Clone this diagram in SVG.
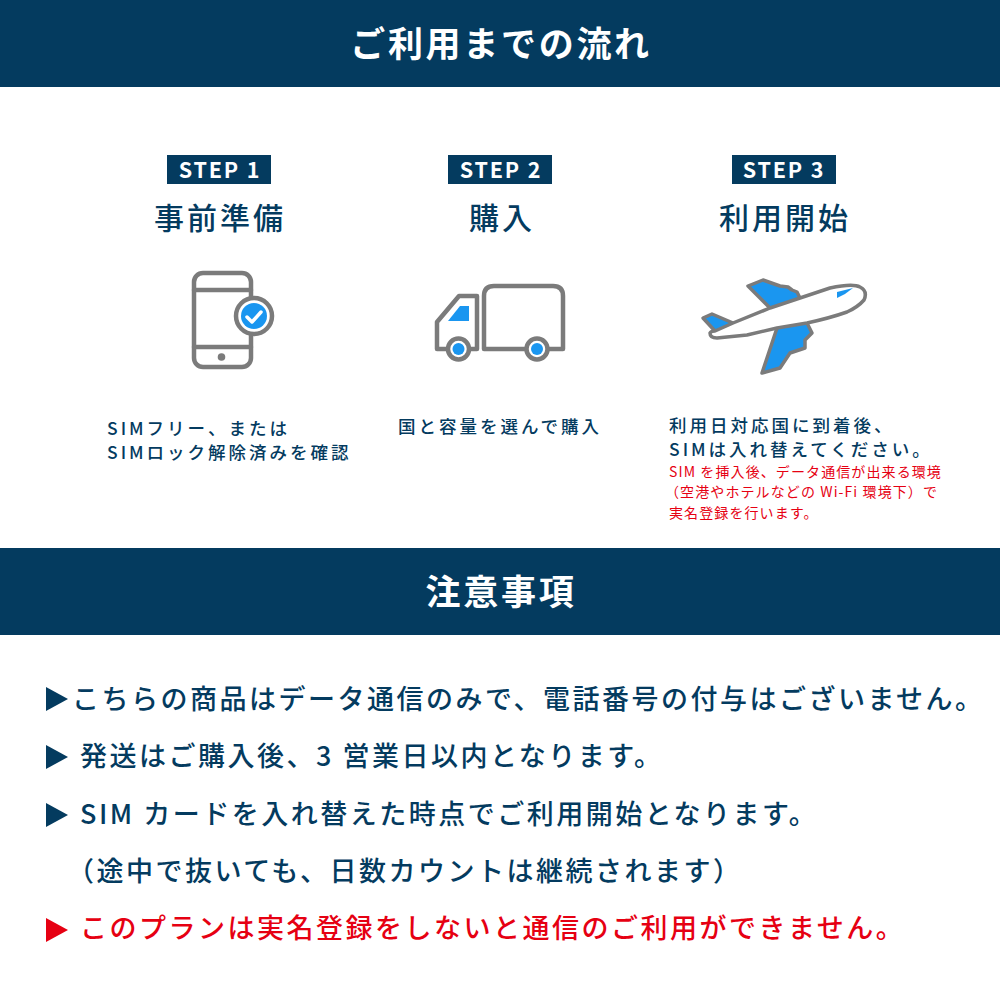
<svg xmlns="http://www.w3.org/2000/svg" width="1000" height="1000" viewBox="0 0 1000 1000">
<style>
text{font-family:"Noto Sans CJK JP","Noto Sans",sans-serif;fill:#043b5f}
.h{font-size:35px;font-weight:700;fill:#fff;text-anchor:middle;letter-spacing:2.7px}
.st{font-size:21.5px;font-weight:700;fill:#fff;text-anchor:middle;letter-spacing:1.8px}
.t{font-size:30px;font-weight:500;text-anchor:middle;letter-spacing:3px}
.d{font-size:17.5px;font-weight:500;letter-spacing:3px}
.r{font-size:14px;font-weight:400;fill:#e60012;letter-spacing:1.1px}
.n{font-size:27px;font-weight:500;letter-spacing:2.5px}
.ic{fill:none;stroke:#7b7b7b;stroke-width:4.5;stroke-linejoin:round;stroke-linecap:round}
.pl{stroke-width:3.5}
.b{fill:#1a96f0}
.bar{fill:#043b5f}
</style>
<rect width="1000" height="1000" fill="#fff"/>
<g id="header-flow"><rect class="bar" width="1000" height="87"/><text class="h" x="501" y="57">ご利用までの流れ</text></g>
<g id="step1">
<rect class="bar" x="167" y="155" width="104" height="29"/><text class="st" x="220" y="178">STEP 1</text>
<text class="t" x="220" y="229">事前準備</text>
<g id="phone-icon">
<rect class="ic" x="194" y="273" width="57" height="94" rx="9"/>
<path class="ic" d="M194 290H251M194 347H251"/>
<circle cx="221.500" cy="357" r="3.800" fill="#7b7b7b"/>
<circle cx="254" cy="316" r="18" fill="#fff" stroke="#7b7b7b" stroke-width="4.500"/>
<circle class="b" cx="254" cy="316" r="13"/>
<path d="M247 317l5 5 9-10" fill="none" stroke="#fff" stroke-width="3.500" stroke-linecap="round" stroke-linejoin="round"/>
</g>
<text class="d" x="107" y="434.500">SIMフリー、または</text>
<text class="d" x="107" y="458.500">SIMロック解除済みを確認</text>
</g>
<g id="step2">
<rect class="bar" x="448" y="155" width="104" height="29"/><text class="st" x="501" y="178">STEP 2</text>
<text class="t" x="502" y="229">購入</text>
<g id="truck-icon">
<path class="ic" d="M447 349H437V322L459 296H477V349H471"/>
<path class="ic" d="M526 349H484V296Q484 286 494 286H553Q563 286 563 296V349H549"/>
<path class="b" d="M448 321L460 306H469V321Z"/>
<circle cx="458.500" cy="349" r="10.500" fill="#fff" stroke="#7b7b7b" stroke-width="4.500"/>
<circle class="b" cx="458.500" cy="349" r="6"/>
<circle cx="537" cy="349" r="10.500" fill="#fff" stroke="#7b7b7b" stroke-width="4.500"/>
<circle class="b" cx="537" cy="349" r="6"/>
</g>
<text class="d" x="398" y="433">国と容量を選んで購入</text>
</g>
<g id="step3">
<rect class="bar" x="732" y="155" width="104" height="29"/><text class="st" x="784" y="178">STEP 3</text>
<text class="t" x="785" y="229">利用開始</text>
<g id="plane-icon">
<path class="b" d="M770 308L748 286L763 280L780 286L788 287L792 290L797 292L800 298Z"/>
<path class="b" d="M733 323L712 314L703 318L715 331Z"/>
<path class="b" d="M777 328L762 373L780 368L790 353L805 348L805 340L812 333L807 323Z"/>
<path class="b" d="M837 292L853 288L845 294L837 298Z"/>
<path class="ic pl" d="M770 308L748 286L763 280L780 286L788 287L792 290L797 292L800 298"/>
<path class="ic pl" d="M733 323L712 314L703 318L715 331"/>
<path class="ic pl" d="M777 328L762 373L780 368L790 353L805 348L805 340L812 333L807 323"/>
<path class="ic pl" fill="#fff" style="fill:#fff" d="M733 323L770 308L830 288Q853 283 860 287Q868 291 864 300Q858 307 847 312Q830 318 807 323L777 328L747 335L717 338Q710 338 710 333Q711 331 715 331Z"/>
<path class="b" d="M837 292L853 288L845 294L837 298Z"/>
</g>
<text class="d" x="669" y="432">利用日対応国に到着後、</text>
<text class="d" x="669" y="456">SIMは入れ替えてください。</text>
<text class="r" x="669" y="477">SIM を挿入後、データ通信が出来る環境</text>
<text class="r" x="665" y="497">（空港やホテルなどの Wi-Fi 環境下）で</text>
<text class="r" x="669" y="518">実名登録を行います。</text>
</g>
<g id="header-notes"><rect class="bar" y="548" width="1000" height="87"/><text class="h" x="501" y="605">注意事項</text></g>
<g id="notes">
<path class="bar" d="M46 687L68 699L46 711Z"/><text class="n" x="72" y="709">こちらの商品はデータ通信のみで、電話番号の付与はございません。</text>
<path class="bar" d="M46 745L68 757L46 769Z"/><text class="n" x="80" y="766">発送はご購入後、3 営業日以内となります。</text>
<path class="bar" d="M46 803L68 815L46 827Z"/><text class="n" x="80" y="824">SIM カードを入れ替えた時点でご利用開始となります。</text>
<text class="n" x="67" y="881">（途中で抜いても、日数カウントは継続されます）</text>
<path fill="#e60012" d="M46 918L68 930L46 942Z"/><text class="n" style="fill:#e60012" x="80" y="938">このプランは実名登録をしないと通信のご利用ができません。</text>
</g>
</svg>
